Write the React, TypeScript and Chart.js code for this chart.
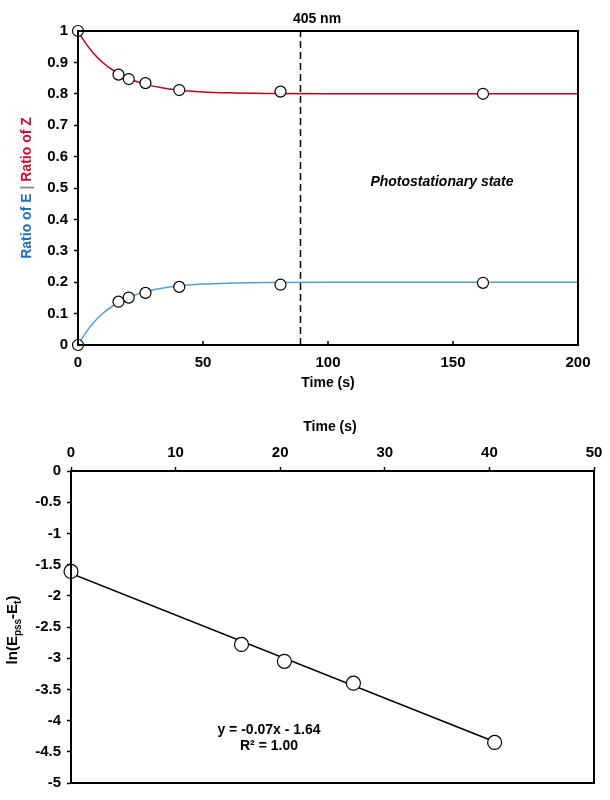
import React, { useEffect, useRef } from "react";
import { Chart, registerables } from "chart.js";
Chart.register(...registerables);

const FONT = '"Liberation Sans", Arial, Helvetica, sans-serif';

// ---- Top chart data ----
const topTime = [0, 16.2, 20.3, 27, 40.5, 81, 162];
const ratioZ = [1, 0.861, 0.847, 0.834, 0.812, 0.807, 0.8];
const ratioE = [0, 0.138, 0.151, 0.166, 0.185, 0.192, 0.198];
const curveTime = [0, 3, 6, 10, 14, 18, 22, 27, 33, 40, 50, 60, 75, 100, 150, 200];
const curveE = [0, 0.038, 0.069, 0.101, 0.125, 0.143, 0.157, 0.17, 0.18, 0.188, 0.194, 0.197, 0.199, 0.2, 0.2, 0.2];
const curveZ = [1, 0.962, 0.931, 0.899, 0.875, 0.857, 0.843, 0.83, 0.82, 0.812, 0.806, 0.803, 0.801, 0.8, 0.8, 0.8];
const pssTime = 89;
const topXTicks = [0, 50, 100, 150, 200];
const topYTickValues = [0, 0.1, 0.2, 0.3, 0.4, 0.5, 0.6, 0.7, 0.8, 0.9, 1];
const topYTickLabels = ["0", "0.1", "0.2", "0.3", "0.4", "0.5", "0.6", "0.7", "0.8", "0.9", "1"];

// ---- Bottom chart data ----
const lnTime = [0, 16.3, 20.4, 27, 40.5];
const lnValues = [-1.61, -2.78, -3.05, -3.4, -4.35];
const fitX = [0, 40.5];
const fitY = [-1.64, -4.34];
const botXTicks = [0, 10, 20, 30, 40, 50];
const botYTickValues = [0, -0.5, -1, -1.5, -2, -2.5, -3, -3.5, -4, -4.5, -5];
const botYTickLabels = ["0", "-0.5", "-1", "-1.5", "-2", "-2.5", "-3", "-3.5", "-4", "-4.5", "-5"];

const RED = "#c0001a";
const BLUE = "#5b9bd5";

function labelFor(values: number[], labels: string[], v: number) {
  let best = 0;
  for (let i = 0; i < values.length; i++) {
    if (Math.abs(values[i] - v) < Math.abs(values[best] - v)) best = i;
  }
  return labels[best];
}

const zip = (xs: number[], ys: number[]) => xs.map((x, i) => ({ x, y: ys[i] }));

const tickFont = { family: FONT, size: 15, weight: "bold" as const };

const topPlugin = {
  id: "topDecor",
  afterDatasetsDraw(chart: any) {
    const { ctx, chartArea } = chart;
    const { left, top, right, bottom } = chartArea;
    const x = chart.scales.x;
    ctx.save();
    ctx.strokeStyle = "#000";
    ctx.lineWidth = 2;
    ctx.strokeRect(left, top, right - left, bottom - top);
    ctx.lineWidth = 1.5;
    for (const v of topXTicks) {
      const px = x.getPixelForValue(v);
      ctx.beginPath();
      ctx.moveTo(px, bottom);
      ctx.lineTo(px, bottom - 4);
      ctx.stroke();
    }
    ctx.fillStyle = "#000";
    ctx.font = `bold 14px ${FONT}`;
    ctx.textAlign = "center";
    ctx.textBaseline = "middle";
    ctx.fillText("405 nm", 317, 19);
    ctx.fillText("Time (s)", (left + right) / 2, 383);
    ctx.font = `italic bold 14px ${FONT}`;
    ctx.fillText("Photostationary state", 442, 182);
    // multi-colour y title
    ctx.translate(27, 188);
    ctx.rotate(-Math.PI / 2);
    ctx.font = `bold 14px ${FONT}`;
    const segs: [string, string][] = [
      ["Ratio of E", "#1f6fc0"],
      [" | ", "#8a8a8a"],
      ["Ratio of Z", "#c8102e"],
    ];
    const total = segs.reduce((s, [t]) => s + ctx.measureText(t).width, 0);
    let cx = -total / 2;
    ctx.textAlign = "left";
    for (const [t, c] of segs) {
      ctx.fillStyle = c;
      ctx.fillText(t, cx, 0);
      cx += ctx.measureText(t).width;
    }
    ctx.restore();
  },
};

const botPlugin = {
  id: "botDecor",
  afterDatasetsDraw(chart: any) {
    const { ctx, chartArea } = chart;
    const { left, top, right, bottom } = chartArea;
    ctx.save();
    ctx.strokeStyle = "#000";
    ctx.lineWidth = 2;
    ctx.strokeRect(left, top, right - left, bottom - top);
    ctx.fillStyle = "#000";
    ctx.font = `bold 14px ${FONT}`;
    ctx.textAlign = "center";
    ctx.textBaseline = "middle";
    ctx.fillText("Time (s)", 330, 27);
    ctx.fillText("y = -0.07x - 1.64", 269, 330);
    ctx.fillText("R\u00B2 = 1.00", 269, 346);
    // y title with subscripts
    ctx.translate(13, 230);
    ctx.rotate(-Math.PI / 2);
    const parts: [string, boolean][] = [
      ["ln(E", false],
      ["pss", true],
      ["-E", false],
      ["t", true],
      [")", false],
    ];
    const fontFor = (sub: boolean) => `bold ${sub ? 10 : 15}px ${FONT}`;
    let total = 0;
    for (const [t, s] of parts) {
      ctx.font = fontFor(s);
      total += ctx.measureText(t).width;
    }
    let cx = -total / 2;
    ctx.textAlign = "left";
    for (const [t, s] of parts) {
      ctx.font = fontFor(s);
      ctx.fillText(t, cx, s ? 5 : 0);
      cx += ctx.measureText(t).width;
    }
    ctx.restore();
  },
};

function TopChart() {
  const ref = useRef<HTMLCanvasElement>(null);
  useEffect(() => {
    const chart = new Chart(ref.current!, {
      type: "scatter",
      data: {
        datasets: [
          {
            data: zip(topTime, ratioZ),
            pointRadius: 5.5,
            pointBackgroundColor: "#fff",
            pointBorderColor: "#000",
            pointBorderWidth: 1.2,
            showLine: false,
            clip: false,
            order: 0,
          },
          {
            data: zip(topTime, ratioE),
            pointRadius: 5.5,
            pointBackgroundColor: "#fff",
            pointBorderColor: "#000",
            pointBorderWidth: 1.2,
            showLine: false,
            clip: false,
            order: 0,
          },
          {
            data: zip(curveTime, curveZ),
            showLine: true,
            pointRadius: 0,
            borderColor: RED,
            borderWidth: 1.5,
            cubicInterpolationMode: "monotone",
            order: 1,
          },
          {
            data: zip(curveTime, curveE),
            showLine: true,
            pointRadius: 0,
            borderColor: BLUE,
            borderWidth: 1.5,
            cubicInterpolationMode: "monotone",
            order: 1,
          },
          {
            data: [
              { x: pssTime, y: 0 },
              { x: pssTime, y: 1 },
            ],
            showLine: true,
            pointRadius: 0,
            borderColor: "#000",
            borderWidth: 1.5,
            borderDash: [7, 4],
            order: 2,
          },
        ],
      } as any,
      options: {
        responsive: false,
        animation: false,
        layout: { padding: { top: 31, right: 32, bottom: 0, left: 0 } },
        plugins: { legend: { display: false }, tooltip: { enabled: false } },
        scales: {
          x: {
            type: "linear",
            min: 0,
            max: 200,
            afterFit: (s: any) => {
              s.height = 55;
            },
            afterBuildTicks: (s: any) => {
              s.ticks = topXTicks.map((v) => ({ value: v }));
            },
            grid: { display: true, drawOnChartArea: false, drawTicks: false },
            border: { display: true, color: "#000", width: 2 },
            ticks: { color: "#000", font: tickFont, padding: 9, maxRotation: 0 },
          },
          y: {
            type: "linear",
            min: 0,
            max: 1,
            afterFit: (s: any) => {
              s.width = 78;
            },
            afterBuildTicks: (s: any) => {
              s.ticks = topYTickValues.map((v) => ({ value: v }));
            },
            grid: { display: true, drawOnChartArea: false, tickLength: 4, color: "#000", tickWidth: 1.5 },
            border: { display: true, color: "#000", width: 2 },
            ticks: {
              color: "#000",
              font: tickFont,
              padding: 6,
              callback: (v: any) => labelFor(topYTickValues, topYTickLabels, Number(v)),
            },
          },
        },
      } as any,
      plugins: [topPlugin],
    });
    return () => chart.destroy();
  }, []);
  return <canvas ref={ref} width={610} height={400} style={{ display: "block" }} />;
}

function BottomChart() {
  const ref = useRef<HTMLCanvasElement>(null);
  useEffect(() => {
    const chart = new Chart(ref.current!, {
      type: "scatter",
      data: {
        datasets: [
          {
            data: zip(lnTime, lnValues),
            pointRadius: 7,
            pointBackgroundColor: "#fff",
            pointBorderColor: "#000",
            pointBorderWidth: 1.2,
            showLine: false,
            clip: false,
            order: 0,
          },
          {
            data: zip(fitX, fitY),
            showLine: true,
            pointRadius: 0,
            borderColor: "#000",
            borderWidth: 1.5,
            order: 1,
          },
        ],
      } as any,
      options: {
        responsive: false,
        animation: false,
        layout: { padding: { top: 0, right: 16, bottom: 17, left: 0 } },
        plugins: { legend: { display: false }, tooltip: { enabled: false } },
        scales: {
          x: {
            type: "linear",
            position: "top",
            min: 0,
            max: 50,
            afterFit: (s: any) => {
              s.height = 71;
            },
            afterBuildTicks: (s: any) => {
              s.ticks = botXTicks.map((v) => ({ value: v }));
            },
            grid: { display: true, drawOnChartArea: false, tickLength: 4, color: "#000", tickWidth: 1.5 },
            border: { display: true, color: "#000", width: 2 },
            ticks: { color: "#000", font: tickFont, padding: 5, maxRotation: 0 },
          },
          y: {
            type: "linear",
            min: -5,
            max: 0,
            afterFit: (s: any) => {
              s.width = 71;
            },
            afterBuildTicks: (s: any) => {
              s.ticks = botYTickValues.map((v) => ({ value: v }));
            },
            grid: { display: true, drawOnChartArea: false, tickLength: 4, color: "#000", tickWidth: 1.5 },
            border: { display: true, color: "#000", width: 2 },
            ticks: {
              color: "#000",
              font: tickFont,
              padding: 6,
              callback: (v: any) => labelFor(botYTickValues, botYTickLabels, Number(v)),
            },
          },
        },
      } as any,
      plugins: [botPlugin],
    });
    return () => chart.destroy();
  }, []);
  return <canvas ref={ref} width={610} height={400} style={{ display: "block" }} />;
}

export default function App() {
  return (
    <div style={{ position: "absolute", left: 0, top: 0, width: 610, height: 800, background: "#fff" }}>
      <TopChart />
      <BottomChart />
    </div>
  );
}
